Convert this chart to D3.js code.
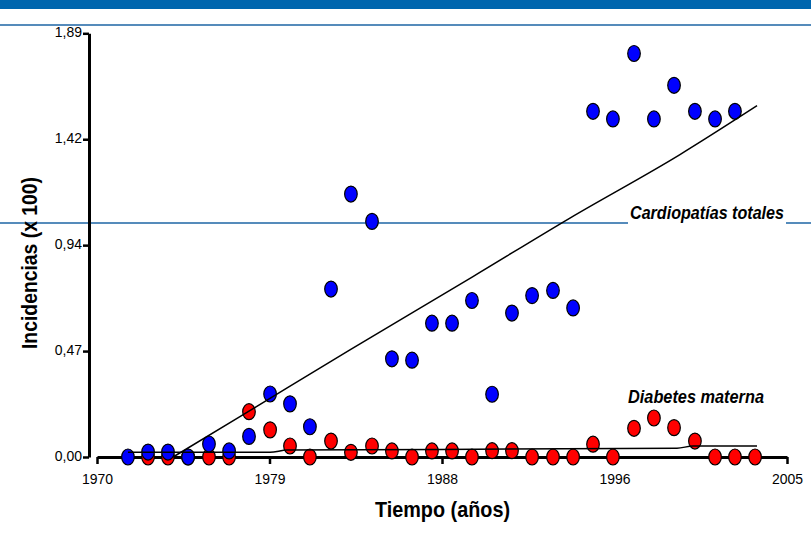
<!DOCTYPE html>
<html>
<head>
<meta charset="utf-8">
<script src="https://cdn.jsdelivr.net/npm/d3@7"></script>
<style>
	body { margin: 0; background: #fff; }
	svg { display: block; font-family: "Liberation Sans", Arial, sans-serif; }
</style>
</head>
<body>
<div id="chart"></div>
<script>

// años (posiciones leídas sobre el eje) y valores de incidencia (x 100)
var cardioYears = [1971.57, 1972.59, 1973.60, 1974.62, 1975.68, 1976.70, 1977.71, 1978.78, 1979.79, 1980.80, 1981.87, 1982.88, 1983.95, 1984.96, 1985.98, 1986.99, 1988.01, 1989.02, 1990.04, 1991.05, 1992.07, 1993.13, 1994.15, 1995.16, 1996.17, 1997.24, 1998.25, 1999.27, 2000.33, 2001.35, 2002.36];
var cardioValues = [0, 0.022, 0.022, 0, 0.058, 0.027, 0.092, 0.281, 0.237, 0.135, 0.749, 1.173, 1.051, 0.438, 0.432, 0.597, 0.597, 0.698, 0.280, 0.642, 0.720, 0.743, 0.665, 1.542, 1.508, 1.800, 1.508, 1.658, 1.542, 1.508, 1.542];

var diabYears = [1972.59, 1973.60, 1974.62, 1975.68, 1976.70, 1977.71, 1978.78, 1979.79, 1980.80, 1981.87, 1982.88, 1983.95, 1984.96, 1985.98, 1986.99, 1988.01, 1989.02, 1990.04, 1991.05, 1992.07, 1993.13, 1994.15, 1995.16, 1996.17, 1997.24, 1998.25, 1999.27, 2000.33, 2001.35, 2002.36, 2003.38];
var diabValues = [0, 0, 0, 0, 0, 0.202, 0.121, 0.049, 0, 0.071, 0.021, 0.049, 0.027, 0, 0.027, 0.027, 0, 0.028, 0.028, 0, 0, 0, 0.057, 0, 0.128, 0.174, 0.131, 0.071, 0, 0, 0];

// curvas de tendencia
var cardioTrendYears = [1973.86, 1977.25, 1982.83, 1989.07, 1993.99, 1999.57, 2003.48];
var cardioTrendValues = [0, 0.180, 0.478, 0.805, 1.066, 1.349, 1.567];
var diabTrendYears = [1971.57, 1978.78, 1979.64, 1987.40, 1999.42, 2000.23, 2003.48];
var diabTrendValues = [0.021, 0.021, 0.031, 0.034, 0.039, 0.049, 0.049];

// ejes
var xTicks = [1970, 1978.75, 1987.5, 1996.25, 2005];
var xTickLabels = ["1970", "1979", "1988", "1996", "2005"];
var yTicks = [0, 0.4725, 0.945, 1.4175, 1.89];
var yTickLabels = ["0,00", "0,47", "0,94", "1,42", "1,89"];

var width = 811, height = 542;
var blue = "#1c64a4";

var svg = d3.select("#chart").append("svg")
	.attr("width", width)
	.attr("height", height);

// marco de la diapositiva
svg.append("rect")
	.attr("x", 0).attr("y", 0)
	.attr("width", width).attr("height", 9)
	.attr("fill", "#0066ae");

svg.append("line")
	.attr("x1", 0).attr("x2", width)
	.attr("y1", 25).attr("y2", 25)
	.attr("stroke", blue).attr("stroke-width", 1.4);

svg.append("line")
	.attr("x1", 0).attr("x2", width)
	.attr("y1", 223).attr("y2", 223)
	.attr("stroke", blue).attr("stroke-width", 1.4);

var x = d3.scaleLinear().domain([1970, 2005]).range([97, 787]);
var y = d3.scaleLinear().domain([0, 1.89]).range([457, 33.3]);

function squeeze(sel, k) {
	sel.each(function() {
		var w = this.getComputedTextLength();
		d3.select(this)
			.attr("textLength", w * k)
			.attr("lengthAdjust", "spacingAndGlyphs");
	});
}

var xAxis = d3.axisBottom(x)
	.tickValues(xTicks)
	.tickFormat(function(d, i) { return xTickLabels[i]; })
	.tickSize(7)
	.tickSizeOuter(0)
	.tickPadding(9);

var yAxis = d3.axisLeft(y)
	.tickValues(yTicks)
	.tickFormat(function(d, i) { return yTickLabels[i]; })
	.tickSize(6)
	.tickSizeOuter(0)
	.tickPadding(1);

var xAxisG = svg.append("g")
	.attr("transform", "translate(0," + y(0) + ")")
	.call(xAxis);

var yAxisG = svg.append("g")
	.attr("transform", "translate(89,0)")
	.call(yAxis);

[xAxisG, yAxisG].forEach(function(g) {
	g.attr("font-family", null).attr("font-size", null);
	g.select(".domain").attr("stroke", "#000").attr("stroke-width", 3);
	g.selectAll(".tick line").attr("stroke", "#000").attr("stroke-width", 2.5);
	g.selectAll(".tick text")
		.attr("fill", "#000")
		.style("font-size", "15.5px");
	squeeze(g.selectAll(".tick text"), 0.9);
});

yAxisG.selectAll(".tick text").attr("dy", "3px");

// puntos
var markers = svg.append("g");

markers.selectAll(".diab")
	.data(diabValues)
	.enter().append("ellipse")
	.attr("class", "diab")
	.attr("cx", function(d, i) { return x(diabYears[i]); })
	.attr("cy", function(d) { return y(d); })
	.attr("rx", 6.3)
	.attr("ry", 8)
	.attr("fill", "#ff0000")
	.attr("stroke", "#000")
	.attr("stroke-width", 1.2);

markers.selectAll(".cardio")
	.data(cardioValues)
	.enter().append("ellipse")
	.attr("class", "cardio")
	.attr("cx", function(d, i) { return x(cardioYears[i]); })
	.attr("cy", function(d) { return y(d); })
	.attr("rx", 6.3)
	.attr("ry", 8)
	.attr("fill", "#0000ff")
	.attr("stroke", "#000")
	.attr("stroke-width", 1.2);

// tendencias
var line = d3.line()
	.x(function(d) { return x(d[0]); })
	.y(function(d) { return y(d[1]); })
	.curve(d3.curveMonotoneX);

svg.append("path")
	.datum(cardioTrendYears.map(function(d, i) { return [d, cardioTrendValues[i]]; }))
	.attr("d", line)
	.attr("fill", "none")
	.attr("stroke", "#000")
	.attr("stroke-width", 1.5);

svg.append("path")
	.datum(diabTrendYears.map(function(d, i) { return [d, diabTrendValues[i]]; }))
	.attr("d", line)
	.attr("fill", "none")
	.attr("stroke", "#000")
	.attr("stroke-width", 1.5);

// etiquetas de series
svg.append("rect")
	.attr("x", 628).attr("y", 204)
	.attr("width", 158).attr("height", 23)
	.attr("fill", "#fff");

svg.append("text")
	.attr("x", 630)
	.attr("y", 218.5)
	.style("font-size", "18px")
	.style("font-weight", "bold")
	.style("font-style", "italic")
	.attr("textLength", 154)
	.attr("lengthAdjust", "spacingAndGlyphs")
	.text("Cardiopatías totales");

svg.append("text")
	.attr("x", 628)
	.attr("y", 402.5)
	.style("font-size", "18px")
	.style("font-weight", "bold")
	.style("font-style", "italic")
	.attr("textLength", 136)
	.attr("lengthAdjust", "spacingAndGlyphs")
	.text("Diabetes materna");

// títulos de ejes
svg.append("text")
	.attr("x", 442.5)
	.attr("y", 516.5)
	.attr("text-anchor", "middle")
	.style("font-size", "22px")
	.style("font-weight", "bold")
	.attr("textLength", 135)
	.attr("lengthAdjust", "spacingAndGlyphs")
	.text("Tiempo (años)");

svg.append("text")
	.attr("transform", "translate(37,263) rotate(-90)")
	.attr("text-anchor", "middle")
	.style("font-size", "22px")
	.style("font-weight", "bold")
	.attr("textLength", 172)
	.attr("lengthAdjust", "spacingAndGlyphs")
	.text("Incidencias (x 100)");

</script>
</body>
</html>
